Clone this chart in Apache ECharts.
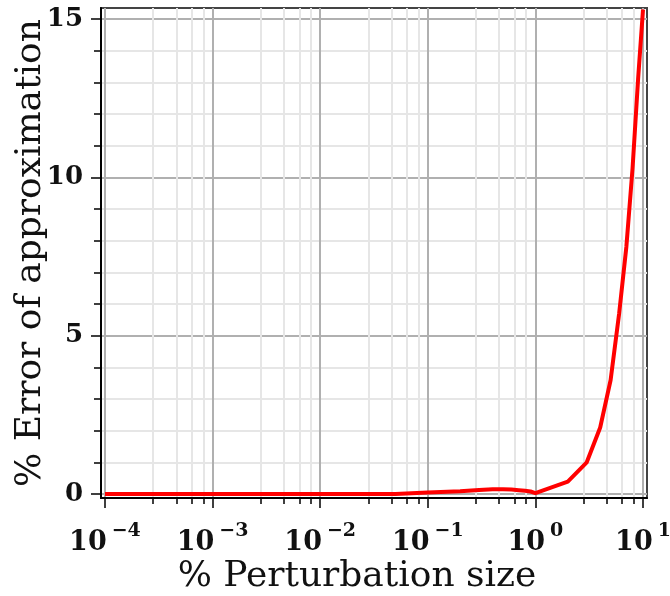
<!DOCTYPE html>
<html>
<head>
<meta charset="utf-8">
<script src="https://cdn.jsdelivr.net/npm/echarts@6/dist/echarts.min.js"></script>
<style>
  html, body { margin: 0; padding: 0; background: #fff; }
  #chart { width: 670px; height: 596px; }
</style>
</head>
<body>
<div id="chart"></div>
<script>
// perturbation size (%) and error of approximation (%)
var pertSize = [1e-4, 1e-3, 1e-2, 0.05, 0.1, 0.2, 0.3, 0.4, 0.5, 0.6, 0.7, 0.8, 0.9, 1,
    2, 3, 4, 5, 6, 7, 8, 9, 10];
var errPct = [0, 0, 0, 0, 0.05, 0.09, 0.13, 0.15, 0.15, 0.14, 0.12, 0.1, 0.08, 0.03,
    0.39, 1.0, 2.1, 3.6, 5.7, 7.8, 10.3, 13.1, 15.3];

// tick positions
var xDecades = [-4, -3, -2, -1, 0, 1];
var xMinorSteps = [2.8, 4.6, 6.4, 8.2];
var yMajorTicks = [0, 5, 10, 15];
var yMinorTicks = [1, 2, 3, 4, 6, 7, 8, 9, 11, 12, 13, 14];

var FONT = '"DejaVu Serif", "Liberation Serif", serif';
var X_MIN = -4.037, X_MAX = 1.037;
var Y_MIN = -0.126, Y_MAX = 15.347;

var xMinor = [];
for (var d = 0; d < xDecades.length - 1; d++) {
    for (var k = 0; k < xMinorSteps.length; k++) {
        xMinor.push(xDecades[d] + Math.log10(xMinorSteps[k]));
    }
}

var lineData = [];
for (var i = 0; i < pertSize.length; i++) {
    lineData.push([Math.log10(pertSize[i]), errPct[i]]);
}

var minorGrid = {show: true, lineStyle: {color: '#e6e6e6', width: 2}};
var majorGrid = {show: true, lineStyle: {color: '#b0b0b0', width: 2}};

var option = {
    animation: false,
    grid: {
        left: 101, right: 23, top: 8, bottom: 98,
        show: true, borderColor: '#444', borderWidth: 2,
        outerBoundsMode: 'none'
    },
    xAxis: [
        {
            type: 'value', min: X_MIN, max: X_MAX, position: 'bottom',
            axisLine: {show: false, onZero: false},
            axisTick: {show: true, customValues: xMinor, length: 6, lineStyle: {color: '#000', width: 1.5}},
            axisLabel: {show: false},
            splitLine: minorGrid
        },
        {
            type: 'value', min: X_MIN, max: X_MAX, position: 'bottom',
            axisLine: {show: true, onZero: false, lineStyle: {color: '#000', width: 2}},
            axisTick: {show: true, customValues: xDecades, length: 10, lineStyle: {color: '#000', width: 1.5}},
            axisLabel: {
                customValues: xDecades,
                margin: 24,
                formatter: function (v) {
                    var e = Math.round(v);
                    return '{b|10}{s|' + (e < 0 ? '\u2212' + (-e) : e) + '}';
                },
                rich: {
                    b: {fontFamily: FONT, fontWeight: 'bold', fontSize: 27, color: '#111', verticalAlign: 'bottom', lineHeight: 30},
                    s: {fontFamily: FONT, fontWeight: 'bold', fontSize: 19, color: '#111', verticalAlign: 'bottom', padding: [0, 0, 15, 5]}
                }
            },
            splitLine: majorGrid,
            name: '% Perturbation size',
            nameLocation: 'middle',
            nameGap: 61,
            nameMoveOverlap: false,
            nameTextStyle: {fontFamily: FONT, fontSize: 36, color: '#111', padding: [0, 34, 0, 0]}
        }
    ],
    yAxis: [
        {
            type: 'value', min: Y_MIN, max: Y_MAX, position: 'left',
            axisLine: {show: false, onZero: false},
            axisTick: {show: true, customValues: yMinorTicks, length: 7, lineStyle: {color: '#000', width: 1.5}},
            axisLabel: {show: false},
            splitLine: minorGrid
        },
        {
            type: 'value', min: Y_MIN, max: Y_MAX, position: 'left',
            axisLine: {show: true, onZero: false, lineStyle: {color: '#000', width: 2}},
            axisTick: {show: true, customValues: yMajorTicks, length: 10, lineStyle: {color: '#000', width: 1.5}},
            axisLabel: {
                customValues: yMajorTicks,
                margin: 18,
                fontFamily: FONT, fontWeight: 'bold', fontSize: 26, color: '#111'
            },
            splitLine: majorGrid,
            name: '% Error of approximation',
            nameLocation: 'middle',
            nameGap: 52,
            nameMoveOverlap: false,
            nameTextStyle: {fontFamily: FONT, fontSize: 36, color: '#111'}
        }
    ],
    series: [
        {
            type: 'line',
            xAxisIndex: 1,
            yAxisIndex: 1,
            data: lineData,
            showSymbol: false,
            lineStyle: {color: '#ff0000', width: 4},
            z: 5
        }
    ]
};

var chart = echarts.init(document.getElementById('chart'), null, {renderer: 'canvas'});
chart.setOption(option);
</script>
</body>
</html>
